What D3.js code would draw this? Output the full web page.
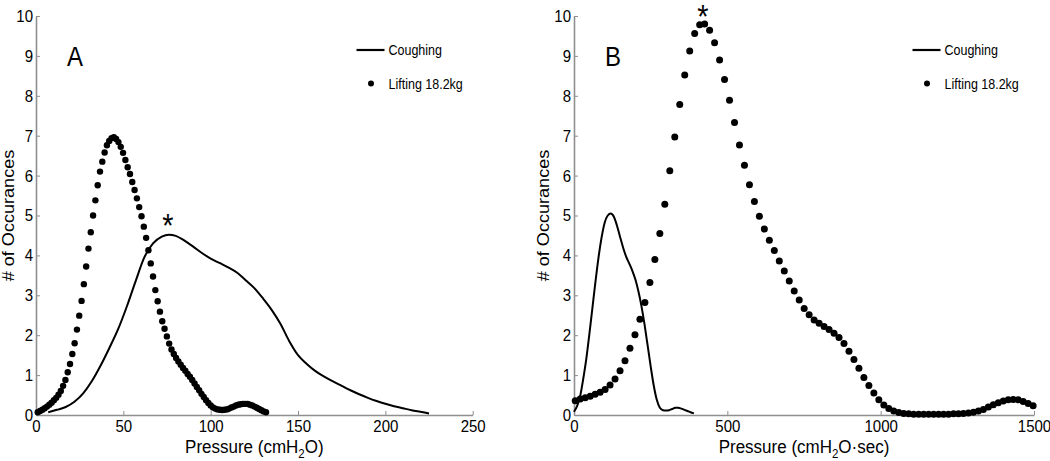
<!DOCTYPE html>
<html>
<head>
<meta charset="utf-8">
<script src="https://cdn.jsdelivr.net/npm/d3@7"></script>
<style>
  html, body { margin: 0; padding: 0; background: #fff; }
  svg { display: block; font-family: "Liberation Sans", Arial, sans-serif; }
</style>
</head>
<body>
<svg id="chart" width="1050" height="461"></svg>
<script>
// ---------------- DATA ----------------
// Panel A: peak pressure (cmH2O)
const xTicksA = [0, 50, 100, 150, 200, 250];
const yTicks = [0, 1, 2, 3, 4, 5, 6, 7, 8, 9, 10];

const coughA_x = [7, 12, 17, 22, 27, 32, 37, 42, 47, 52, 57, 62, 67, 72, 76, 80, 85, 90, 95, 100,
  105, 110, 115, 120, 125, 130, 135, 140, 145, 150, 155, 160, 165, 170, 175, 180, 185, 190, 195, 200,
  205, 210, 215, 220, 225];
const coughA_y = [0.07, 0.13, 0.20, 0.33, 0.54, 0.85, 1.24, 1.68, 2.15, 2.72, 3.35, 3.95, 4.30, 4.47, 4.52, 4.49, 4.37, 4.22, 4.06, 3.92,
  3.81, 3.70, 3.57, 3.38, 3.18, 2.92, 2.63, 2.28, 1.85, 1.50, 1.28, 1.10, 0.96, 0.84, 0.73, 0.62, 0.52, 0.43, 0.35, 0.28,
  0.22, 0.17, 0.12, 0.08, 0.04];

const liftA_x = [1.00, 2.32, 3.64, 4.96, 6.28, 7.60, 8.92, 10.24, 11.56, 12.88,
  14.20, 15.52, 16.84, 18.16, 19.48, 20.80, 22.12, 23.44, 24.76, 26.08,
  27.40, 28.72, 30.04, 31.36, 32.68, 34.00, 35.32, 36.64, 37.96, 39.28,
  40.60, 41.92, 43.24, 44.56, 45.88, 47.20, 48.52, 49.84, 51.16, 52.48,
  53.80, 55.12, 56.44, 57.76, 59.08, 60.40, 61.72, 63.04, 64.36, 65.68,
  67.00, 68.32, 69.64, 70.96, 72.28, 73.60, 74.92, 76.24, 77.56, 78.88,
  80.20, 81.52, 82.84, 84.16, 85.48, 86.80, 88.12, 89.44, 90.76, 92.08,
  93.40, 94.72, 96.04, 97.36, 98.68, 100.00, 101.32, 102.64, 103.96, 105.28,
  106.60, 107.92, 109.24, 110.56, 111.88, 113.20, 114.52, 115.84, 117.16, 118.48,
  119.80, 121.12, 122.44, 123.76, 125.08, 126.40, 127.72, 129.04, 130.36, 131.68];
const liftA_y = [0.07, 0.10, 0.13, 0.17, 0.21, 0.26, 0.31, 0.37, 0.43, 0.51,
  0.60, 0.73, 0.88, 1.07, 1.28, 1.53, 1.80, 2.14, 2.49, 2.86,
  3.28, 3.72, 4.17, 4.58, 5.00, 5.38, 5.76, 6.10, 6.35, 6.58,
  6.76, 6.87, 6.94, 6.96, 6.92, 6.84, 6.72, 6.57, 6.39, 6.21,
  6.04, 5.84, 5.64, 5.43, 5.21, 4.98, 4.72, 4.44, 4.13, 3.80,
  3.47, 3.13, 2.85, 2.59, 2.35, 2.16, 1.97, 1.79, 1.64, 1.53,
  1.43, 1.34, 1.26, 1.18, 1.11, 1.03, 0.96, 0.88, 0.79, 0.70,
  0.62, 0.53, 0.45, 0.37, 0.30, 0.24, 0.19, 0.16, 0.14, 0.13,
  0.125, 0.13, 0.14, 0.16, 0.19, 0.21, 0.24, 0.26, 0.27, 0.28,
  0.28, 0.28, 0.26, 0.24, 0.21, 0.18, 0.15, 0.12, 0.09, 0.07];

// Panel B: pressure-time (cmH2O·sec)
const xTicksB = [0, 500, 1000, 1500];

const coughB_x = [0, 10, 20, 30, 40, 50, 60, 70, 80, 90, 100, 110, 120, 130, 140, 150, 160, 170, 180, 190,
  200, 210, 220, 230, 240, 250, 260, 270, 280, 290, 300, 310, 320, 330, 340, 350, 360, 370, 380, 391];
const coughB_y = [0.08, 0.22, 0.47, 0.90, 1.40, 2.02, 2.68, 3.34, 3.95, 4.45, 4.82, 5.00, 5.05, 4.97, 4.75, 4.47, 4.20, 3.97, 3.80, 3.62,
  3.40, 3.10, 2.73, 2.27, 1.75, 1.22, 0.74, 0.38, 0.18, 0.12, 0.11, 0.12, 0.15, 0.18, 0.18, 0.16, 0.13, 0.10, 0.07, 0.04];

const liftB_x = [4.0, 20.2, 36.5, 52.7, 68.9, 85.2, 101.4, 117.6, 133.8, 150.1,
  166.3, 182.5, 198.8, 215.0, 231.2, 247.5, 263.7, 279.9, 296.1, 312.4,
  328.6, 344.8, 361.1, 377.3, 393.5, 409.8, 426.0, 442.2, 458.4, 474.7,
  490.9, 507.1, 523.4, 539.6, 555.8, 572.1, 588.3, 604.5, 620.7, 637.0,
  653.2, 669.4, 685.7, 701.9, 718.1, 734.4, 750.6, 766.8, 783.0, 799.3,
  815.5, 831.7, 848.0, 864.2, 880.4, 896.7, 912.9, 929.1, 945.3, 961.6,
  977.8, 994.0, 1010.3, 1026.5, 1042.7, 1059.0, 1075.2, 1091.4, 1107.6, 1123.9,
  1140.1, 1156.3, 1172.6, 1188.8, 1205.0, 1221.3, 1237.5, 1253.7, 1269.9, 1286.2,
  1302.4, 1318.6, 1334.9, 1351.1, 1367.3, 1383.6, 1399.8, 1416.0, 1432.3, 1448.5,
  1464.7, 1480.9, 1497.2];
const liftB_y = [0.36, 0.40, 0.43, 0.47, 0.52, 0.57, 0.64, 0.75, 0.90, 1.11,
  1.36, 1.67, 2.01, 2.40, 2.82, 3.32, 3.90, 4.55, 5.28, 6.12,
  6.97, 7.78, 8.52, 9.12, 9.56, 9.78, 9.80, 9.64, 9.33, 8.90,
  8.41, 7.89, 7.33, 6.77, 6.26, 5.77, 5.35, 4.98, 4.66, 4.38,
  4.12, 3.86, 3.61, 3.36, 3.11, 2.88, 2.67, 2.51, 2.38, 2.30,
  2.22, 2.14, 2.05, 1.94, 1.79, 1.60, 1.39, 1.17, 0.94, 0.74,
  0.55, 0.38, 0.25, 0.16, 0.10, 0.06, 0.04, 0.03, 0.02, 0.02,
  0.02, 0.02, 0.02, 0.02, 0.02, 0.02, 0.03, 0.03, 0.04, 0.05,
  0.07, 0.10, 0.14, 0.20, 0.26, 0.31, 0.35, 0.38, 0.39, 0.38,
  0.34, 0.29, 0.23];

const legendLabels = ["Coughing", "Lifting 18.2kg"];
const yLabel = "# of Occurances";

// ---------------- DRAWING ----------------
const svg = d3.select("#chart");
const AXIS_COLOR = "#8f8f8f";
const SY = 1.13; // vertical stretch of the original lettering

function zip(xs, ys) { return xs.map((x, i) => ({ x: x, y: ys[i] })); }

function stretchedText(g, x, y, str, size, anchor, rotate) {
  const t = g.append("text")
    .attr("transform", rotate
      ? `translate(${x},${y}) rotate(-90) scale(${SY},1)`
      : `translate(${x},${y}) scale(1,${SY})`)
    .attr("font-size", size)
    .attr("text-anchor", anchor || "start")
    .attr("fill", "#000");
  if (str !== null) t.text(str);
  return t;
}

function panel(opts) {
  const x = d3.scaleLinear().domain(opts.xDomain).range(opts.xRange);
  const y = d3.scaleLinear().domain([0, 10]).range([415, 16]);
  const g = svg.append("g");

  // axes
  const ax = g.append("g").attr("transform", `translate(0,${y(0)})`)
    .call(d3.axisBottom(x).tickValues(opts.xTicks).tickSize(-4).tickSizeOuter(0).tickPadding(4)
      .tickFormat(d3.format("d")));
  const ay = g.append("g").attr("transform", `translate(${x(0)},0)`)
    .call(d3.axisLeft(y).tickValues(yTicks).tickSize(-4).tickSizeOuter(0).tickPadding(3)
      .tickFormat(d3.format("d")));
  [ax, ay].forEach(a => {
    a.select(".domain").attr("stroke", AXIS_COLOR).attr("stroke-width", 1.6);
    a.selectAll(".tick line").attr("stroke", AXIS_COLOR).attr("stroke-width", 1);
    a.selectAll(".tick text").attr("fill", "#000").attr("font-size", 15)
      .attr("transform", `scale(1,${SY})`)
      .attr("font-family", "'Liberation Sans', Arial, sans-serif");
  });

  // coughing line
  g.append("path")
    .datum(zip(opts.coughX, opts.coughY))
    .attr("fill", "none").attr("stroke", "#000").attr("stroke-width", 2)
    .attr("stroke-linejoin", "round")
    .attr("d", d3.line().x(d => x(d.x)).y(d => y(d.y)).curve(d3.curveMonotoneX));

  // lifting dots
  g.append("g").selectAll("circle")
    .data(zip(opts.liftX, opts.liftY))
    .join("circle")
    .attr("cx", d => x(d.x)).attr("cy", d => y(d.y))
    .attr("r", opts.r).attr("fill", "#000");

  // panel letter
  stretchedText(g, opts.letterX, 66, opts.letter, 24, "start");

  // asterisk
  stretchedText(g, x(opts.starX), y(opts.starY), "*", 29, "middle");

  // legend
  const lx = opts.legendX;
  g.append("line").attr("x1", lx).attr("x2", lx + 28).attr("y1", 50).attr("y2", 50)
    .attr("stroke", "#000").attr("stroke-width", 2.2);
  stretchedText(g, lx + 32, 54.5, legendLabels[0], 12.5, "start");
  g.append("circle").attr("cx", lx + 14.5).attr("cy", 83.5).attr("r", 3).attr("fill", "#000");
  stretchedText(g, lx + 32, 88.5, legendLabels[1], 12.5, "start");

  // y label
  stretchedText(g, opts.yLabelX, (y(0) + y(10)) / 2, yLabel, 16, "middle", true);

  // x label
  const xl = stretchedText(g, (x.range()[0] + x.range()[1]) / 2, 453, null, 17, "middle");
  xl.append("tspan").text("Pressure (cmH");
  xl.append("tspan").text("2").attr("font-size", 11.5).attr("dy", 4.5);
  xl.append("tspan").text(opts.xUnitTail).attr("dy", -4.5);
}

panel({
  xDomain: [0, 250], xRange: [36, 472.7], xTicks: xTicksA,
  coughX: coughA_x, coughY: coughA_y, liftX: liftA_x, liftY: liftA_y, r: 3.2,
  letter: "A", letterX: 67, starX: 75.5, starY: 4.47,
  legendX: 356.5, yLabelX: 13.5, xUnitTail: "O)"
});

panel({
  xDomain: [0, 1500], xRange: [574, 1034], xTicks: xTicksB,
  coughX: coughB_x, coughY: coughB_y, liftX: liftB_x, liftY: liftB_y, r: 3.5,
  letter: "B", letterX: 605, starX: 420, starY: 9.69,
  legendX: 912.5, yLabelX: 548.5, xUnitTail: "O·sec)"
});
</script>
</body>
</html>
